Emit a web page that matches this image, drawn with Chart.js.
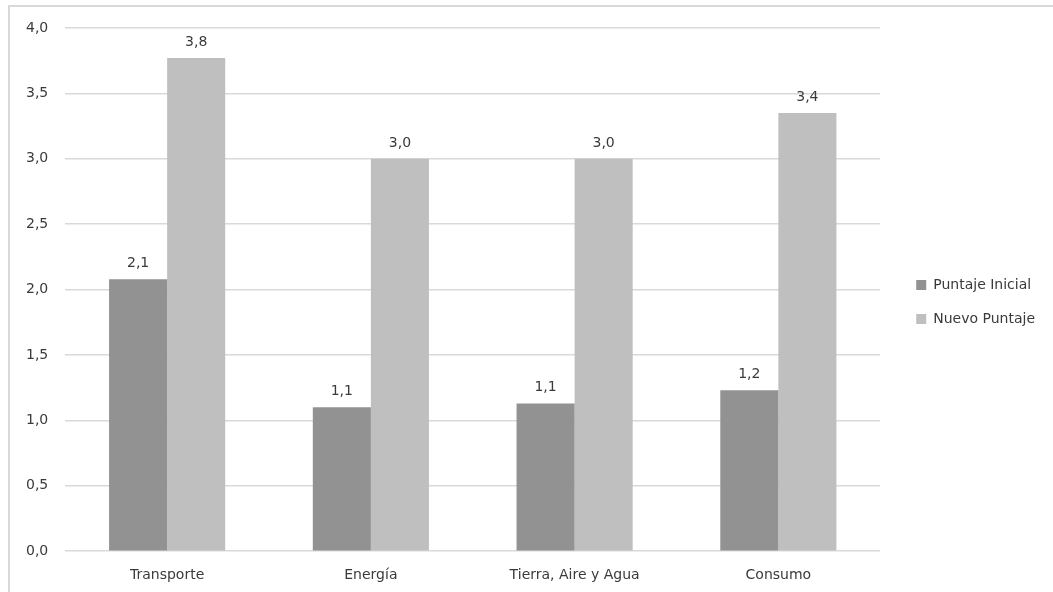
<!DOCTYPE html>
<html>
<head>
<meta charset="utf-8">
<script src="https://cdn.jsdelivr.net/npm/chart.js@4.4.1/dist/chart.umd.min.js"></script>
<style>
  html, body { margin: 0; padding: 0; background: #ffffff; }
  #wrap { position: relative; width: 1053px; height: 592px; overflow: hidden; }
  #frame {
    position: absolute; left: 8px; top: 5px; width: 1200px; height: 800px;
    border-left: 2px solid #d9d9d9; border-top: 2px solid #d9d9d9; box-sizing: border-box;
  }
  #c { position: absolute; left: 0; top: 0; }
</style>
</head>
<body>
<div id="wrap">
  <div id="frame"></div>
  <canvas id="c" width="1053" height="592"></canvas>
</div>
<script>
// Categories and series values
const categories = ['Transporte', 'Energía', 'Tierra, Aire y Agua', 'Consumo'];
const puntajeInicial = [2.08, 1.10, 1.13, 1.23];
const nuevoPuntaje = [3.77, 3.00, 3.00, 3.35];
const seriesNames = ['Puntaje Inicial', 'Nuevo Puntaje'];
const yMin = 0;
const yMax = 4;
const yStep = 0.5;

const TEXT = '#3a3a3a';
const FONT = '"DejaVu Sans", sans-serif';
const FONT_SIZE = 14;

// Decimal comma, one digit
const fmt = v => Number(v).toFixed(1).replace('.', ',');

Chart.defaults.font.family = FONT;
Chart.defaults.font.size = FONT_SIZE;
Chart.defaults.color = TEXT;

// Value labels above each bar
const valueLabels = {
  id: 'valueLabels',
  afterDatasetsDraw(chart) {
    const ctx = chart.ctx;
    ctx.save();
    ctx.font = FONT_SIZE + 'px ' + FONT;
    ctx.fillStyle = TEXT;
    ctx.textAlign = 'center';
    ctx.textBaseline = 'alphabetic';
    chart.data.datasets.forEach((ds, i) => {
      chart.getDatasetMeta(i).data.forEach((bar, j) => {
        ctx.fillText(fmt(ds.data[j]), bar.x, bar.y - 12);
      });
    });
    ctx.restore();
  }
};

// Move the legend a little away from the plot area and up to its centre
const legendGap = {
  id: 'legendGap',
  afterLayout(chart) {
    const lg = chart.legend;
    if (lg) {
      lg.left += 16; lg.right += 16;
      lg.top -= 12; lg.bottom -= 12;
    }
  }
};

new Chart(document.getElementById('c'), {
  type: 'bar',
  data: {
    labels: categories,
    datasets: [
      { label: seriesNames[0], data: puntajeInicial, backgroundColor: '#929292' },
      { label: seriesNames[1], data: nuevoPuntaje, backgroundColor: '#bfbfbf' }
    ]
  },
  options: {
    responsive: false,
    animation: false,
    layout: { padding: { left: 9, top: 28, right: 24, bottom: -8 } },
    datasets: { bar: { categoryPercentage: 0.57, barPercentage: 1.0 } },
    plugins: {
      tooltip: { enabled: false },
      legend: {
        position: 'right',
        labels: {
          boxWidth: 10, boxHeight: 10, padding: 20,
          font: { size: FONT_SIZE, family: FONT }, color: TEXT
        }
      }
    },
    scales: {
      x: {
        grid: { display: false, drawTicks: false },
        border: { display: false },
        ticks: { padding: 16, color: TEXT }
      },
      y: {
        min: yMin, max: yMax,
        grid: { color: '#d9d9d9', lineWidth: 1.5, drawTicks: false },
        border: { display: false },
        ticks: { stepSize: yStep, padding: 17, callback: v => fmt(v), color: TEXT }
      }
    }
  },
  plugins: [valueLabels, legendGap]
});
</script>
</body>
</html>
